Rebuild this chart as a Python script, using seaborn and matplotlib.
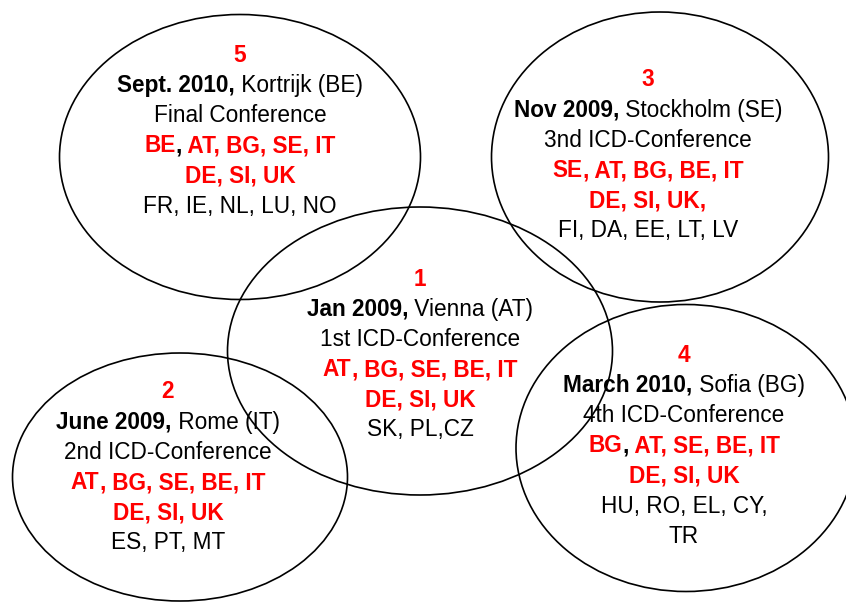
import matplotlib
matplotlib.use("Agg")
import matplotlib.pyplot as plt
from matplotlib.patches import Ellipse
import seaborn as sns

sns.set_theme(style="white")
plt.rcParams['font.family'] = ['Liberation Sans Narrow', 'Liberation Sans', 'DejaVu Sans']

# ---- data ----
numbers = ["5", "3", "1", "2", "4"]
dates = ["Sept. 2010,", "Nov 2009,", "Jan 2009,", "June 2009,", "March 2010,"]
places = [" Kortrijk (BE)", " Stockholm (SE)", " Vienna (AT)", " Rome (IT)", " Sofia (BG)"]
titles = ["Final Conference", "3nd ICD-Conference", "1st ICD-Conference",
          "2nd ICD-Conference", "4th ICD-Conference"]
partner_first = ["BE", "SE", "AT", "AT", "BG"]
partner_rest1 = [" AT, BG, SE, IT", " AT, BG, BE, IT", " BG, SE, BE, IT",
                 " BG, SE, BE, IT", " AT, SE, BE, IT"]
partner_line2 = ["DE, SI, UK", "DE, SI, UK,", "DE, SI, UK", "DE, SI, UK", "DE, SI, UK"]
guests = [["FR, IE, NL, LU, NO"], ["FI, DA, EE, LT, LV"], ["SK, PL,CZ"],
          ["ES, PT, MT"], ["HU, RO, EL, CY,", "TR"]]
black_first_comma = [True, False, False, False, True]

# ---- layout (pixel coordinates) ----
W, H = 846, 603
ellipses = [(240, 157, 361, 285), (660, 157, 337, 290), (420, 351, 385, 288),
            (180, 477, 335, 248), (686, 448, 340, 287)]
text_x = [240, 648, 420, 168, 684]
text_y0 = [55, 80, 279, 392, 355]
line_step = 30.2
FS = 16.3
RED = "#ff0000"

fig = plt.figure(figsize=(W / 100, H / 100), dpi=100)
ax = fig.add_axes([0, 0, 1, 1])
ax.set_xlim(0, W)
ax.set_ylim(H, 0)
ax.axis("off")

for (cx, cy, w, h) in ellipses:
    ax.add_patch(Ellipse((cx, cy), w, h, fill=False, edgecolor="black", lw=1.2))

fig.canvas.draw()
renderer = fig.canvas.get_renderer()


def seg_line(x, y, segs):
    """segs: list of (text, weight, color); centered at x."""
    arts = []
    for t, wgt, col in segs:
        a = ax.text(0, y, t, fontsize=FS, fontweight=wgt, color=col,
                    ha="left", va="center")
        arts.append(a)
    widths = [a.get_window_extent(renderer).width for a in arts]
    total = sum(widths)
    cur = x - total / 2
    for a, wd in zip(arts, widths):
        a.set_x(cur)
        cur += wd


for i in range(5):
    x = text_x[i]
    y = text_y0[i]
    ax.text(x, y, numbers[i], fontsize=FS, fontweight="bold", color=RED,
            ha="center", va="center")
    y += line_step
    seg_line(x, y, [(dates[i], "bold", "black"), (places[i], "normal", "black")])
    y += line_step
    ax.text(x, y, titles[i], fontsize=FS, color="black", ha="center", va="center")
    y += line_step
    comma_col = "black" if black_first_comma[i] else RED
    seg_line(x, y, [(partner_first[i], "bold", RED), (",", "bold", comma_col),
                    (partner_rest1[i], "bold", RED)])
    y += line_step
    ax.text(x, y, partner_line2[i], fontsize=FS, fontweight="bold", color=RED,
            ha="center", va="center")
    for g in guests[i]:
        y += line_step
        ax.text(x, y, g, fontsize=FS, color="black", ha="center", va="center")

fig.savefig("out.png", dpi=100, facecolor="white")
